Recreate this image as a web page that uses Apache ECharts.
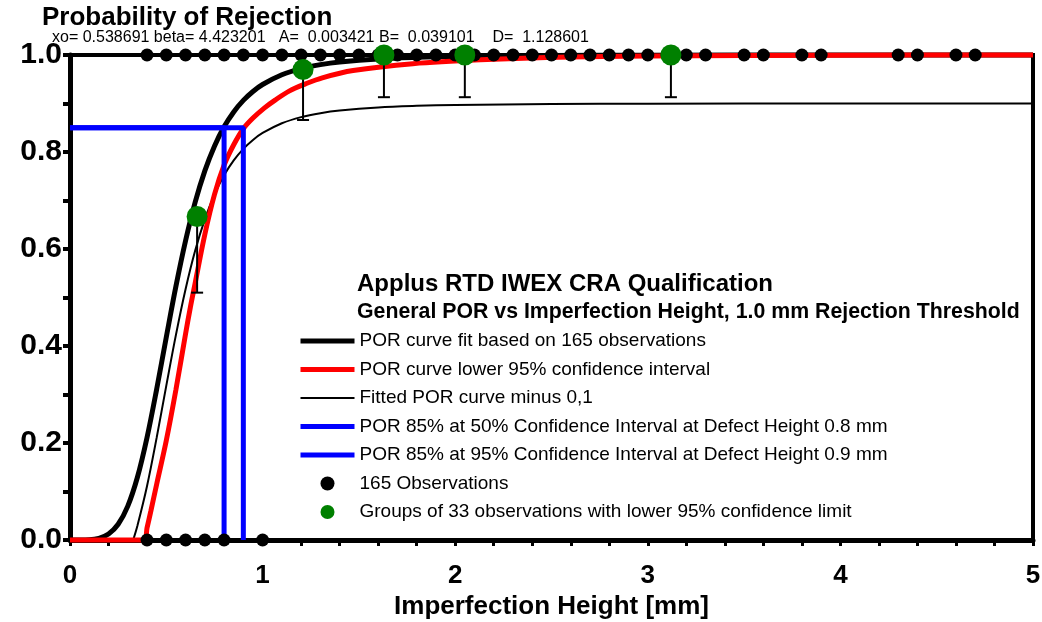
<!DOCTYPE html>
<html>
<head>
<meta charset="utf-8">
<script src="https://cdn.jsdelivr.net/npm/echarts@6/dist/echarts.min.js"></script>
<style>
  html, body { margin: 0; padding: 0; background: #fff; }
  #chart { width: 1042px; height: 622px; }
</style>
</head>
<body>
<div id="chart"></div>
<script>
// Imperfection heights (mm) of the 165 observations, rejected (POR = 1) and not rejected (POR = 0)
const hitHeights = [0.4, 0.5, 0.6, 0.7, 0.8, 0.9, 1.0, 1.1, 1.2, 1.3, 1.4, 1.5, 1.6, 1.7, 1.8, 1.9, 2.0,
  2.1, 2.2, 2.3, 2.4, 2.5, 2.6, 2.7, 2.8, 2.9, 3.0, 3.1, 3.2, 3.3, 3.5, 3.6, 3.8, 3.9, 4.3, 4.4, 4.6, 4.7];
const missHeights = [0.4, 0.5, 0.6, 0.7, 0.8, 1.0];

// POR curve fit (xo = 0.538691, beta = 4.423201)
const fitX = [0, 0.1, 0.15, 0.2, 0.25, 0.3, 0.35, 0.4, 0.45, 0.5, 0.55, 0.6, 0.65, 0.7, 0.75, 0.8, 0.85,
  0.9, 0.95, 1.0, 1.1, 1.2, 1.3, 1.4, 1.6, 1.8, 2.0, 2.5, 3.0, 4.0, 5.0];
const fitY = [0, 0.0006, 0.0035, 0.0123, 0.0324, 0.0698, 0.1293, 0.2114, 0.3110, 0.4183, 0.5230, 0.6170,
  0.6967, 0.7611, 0.8121, 0.8519, 0.8826, 0.9064, 0.9248, 0.9392, 0.9592, 0.9719, 0.9801, 0.9856,
  0.9920, 0.9952, 0.9970, 0.9989, 0.9995, 0.9999, 1.0];

// Lower 95% confidence bound of the POR curve
const lowerX = [0, 0.385, 0.40, 0.42, 0.45, 0.50, 0.55, 0.60, 0.625, 0.65, 0.70, 0.75, 0.80, 0.85,
  0.90, 0.95, 1.01, 1.065, 1.14, 1.22, 1.31, 1.47, 1.78, 2.13, 2.6, 3.0, 4.0, 5.0];
const lowerY = [0, 0, 0.025, 0.06, 0.115, 0.205, 0.31, 0.425, 0.48, 0.53, 0.63, 0.712, 0.773, 0.815,
  0.848, 0.870, 0.891, 0.907, 0.926, 0.940, 0.953, 0.968, 0.982, 0.990, 0.996, 0.998, 0.9995, 1.0];

// Fitted POR curve minus 0.1
const minusX = [0.328, 0.35, 0.4, 0.45, 0.5, 0.55, 0.6, 0.65, 0.7, 0.75, 0.8, 0.85, 0.9, 0.95, 1.0,
  1.1, 1.2, 1.3, 1.4, 1.6, 1.8, 2.0, 2.5, 3.0, 4.0, 5.0];
const minusY = [0, 0.0293, 0.1114, 0.2110, 0.3183, 0.4230, 0.5170, 0.5967, 0.6611, 0.7121, 0.7519,
  0.7826, 0.8064, 0.8248, 0.8392, 0.8592, 0.8719, 0.8801, 0.8856, 0.8920, 0.8952, 0.8970, 0.8989,
  0.8995, 0.8999, 0.9];

// Groups of 33 observations: mean height, hit rate, lower 95% confidence limit
const groupX = [0.66, 1.21, 1.63, 2.05, 3.12];
const groupPor = [0.667, 0.970, 1.0, 1.0, 1.0];
const groupLower = [0.51, 0.866, 0.913, 0.913, 0.913];

// POR 85% reference levels
const porLevel = 0.85;
const height50 = 0.8;
const height95 = 0.9;

const paramText = 'xo= 0.538691 beta= 4.423201   A=  0.003421 B=  0.039101    D=  1.128601';

const names = [
  'POR curve fit based on 165 observations',
  'POR curve lower 95% confidence interval',
  'Fitted POR curve minus 0,1',
  'POR 85% at 50% Confidence Interval at Defect Height 0.8 mm',
  'POR 85% at 95% Confidence Interval at Defect Height 0.9 mm',
  '165 Observations',
  'Groups of 33 observations with lower 95% confidence limit'
];

const pairs = (xs, ys) => xs.map((x, i) => [x, ys[i]]);
const FONT = 'Liberation Sans, Arial, sans-serif';
const BLACK = '#000000', RED = '#ff0000', BLUE = '#0000ff', GREEN = '#008000';

const obsData = hitHeights.map(x => [x, 1]).concat(missHeights.map(x => [x, 0]));
const groupData = groupX.map((x, i) => [x, groupPor[i], groupLower[i]]);

// legend entry for a plain line sample (no marker)
const lineEntry = (name, color, width) => ({
  name, lineStyle: { width, color }, itemStyle: { color, opacity: 0 }
});

const curve = (name, xs, ys, color, width) => ({
  name, type: 'line', data: pairs(xs, ys), symbol: 'none', showSymbol: false, smooth: 0.35,
  clip: false, itemStyle: { color }, lineStyle: { color, width }, z: 2
});

const chart = echarts.init(document.getElementById('chart'), null, { renderer: 'canvas' });

chart.setOption({
  animation: false,
  backgroundColor: '#fff',
  textStyle: { fontFamily: FONT },
  title: [
    { text: 'Probability of Rejection', left: 42, top: 5, padding: 0,
      textStyle: { fontFamily: FONT, fontSize: 26, fontWeight: 'bold', color: BLACK } },
    { text: paramText, left: 52, top: 30, padding: 0,
      textStyle: { fontFamily: FONT, fontSize: 16, fontWeight: 'normal', color: BLACK } },
    { text: 'Applus RTD IWEX CRA Qualification', left: 357, top: 272, padding: 0,
      textStyle: { fontFamily: FONT, fontSize: 24, fontWeight: 'bold', color: BLACK } },
    { text: 'General POR vs Imperfection Height, 1.0 mm Rejection Threshold', left: 357, top: 302, padding: 0,
      textStyle: { fontFamily: FONT, fontSize: 21.3, fontWeight: 'bold', color: BLACK } }
  ],
  legend: {
    orient: 'vertical',
    left: 298,
    top: 329,
    padding: 0,
    itemWidth: 54,
    itemHeight: 14,
    itemGap: 4.5,
    selectedMode: false,
    textStyle: { fontFamily: FONT, fontSize: 19, lineHeight: 24, color: BLACK },
    data: [
      lineEntry(names[0], BLACK, 5),
      lineEntry(names[1], RED, 5),
      lineEntry(names[2], BLACK, 2),
      lineEntry(names[3], BLUE, 5),
      lineEntry(names[4], BLUE, 5),
      { name: names[5], icon: 'circle', itemStyle: { color: BLACK } },
      { name: names[6], icon: 'circle', itemStyle: { color: GREEN } }
    ]
  },
  grid: {
    left: 70, right: 9, top: 55, bottom: 82,
    containLabel: false, outerBoundsMode: 'none',
    show: true, borderColor: BLACK, borderWidth: 4, backgroundColor: 'transparent'
  },
  xAxis: {
    type: 'value', min: 0, max: 5, interval: 1,
    name: 'Imperfection Height [mm]', nameLocation: 'middle', nameGap: 53,
    nameTextStyle: { fontFamily: FONT, fontSize: 26, fontWeight: 'bold', color: BLACK },
    axisLine: { lineStyle: { color: BLACK, width: 5 } },
    axisTick: { show: true, inside: false, length: 6, lineStyle: { color: BLACK, width: 3 } },
    minorTick: { show: true, splitNumber: 5, length: 6, lineStyle: { color: BLACK, width: 3 } },
    splitLine: { show: false },
    axisLabel: { fontFamily: FONT, fontSize: 26, fontWeight: 'bold', color: BLACK, margin: 23 }
  },
  yAxis: {
    type: 'value', min: 0, max: 1, interval: 0.2,
    axisLine: { show: true, lineStyle: { color: BLACK, width: 5 } },
    axisTick: { show: true, inside: false, length: 7, lineStyle: { color: BLACK, width: 4 } },
    minorTick: { show: true, splitNumber: 2, length: 7, lineStyle: { color: BLACK, width: 4 } },
    splitLine: { show: false },
    axisLabel: { fontFamily: FONT, fontSize: 30, fontWeight: 'bold', color: BLACK, margin: 8,
      formatter: v => v.toFixed(1) }
  },
  series: [
    curve(names[0], fitX, fitY, BLACK, 5),
    curve(names[2], minusX, minusY, BLACK, 2),
    curve(names[1], lowerX, lowerY, RED, 5),
    { name: names[3], type: 'line', symbol: 'none', clip: false,
      data: [[0, porLevel], [height50, porLevel], [height50, 0]],
      itemStyle: { color: BLUE }, lineStyle: { color: BLUE, width: 5 }, z: 3 },
    { name: names[4], type: 'line', symbol: 'none', clip: false,
      data: [[0, porLevel], [height95, porLevel], [height95, 0]],
      itemStyle: { color: BLUE }, lineStyle: { color: BLUE, width: 5 }, z: 3 },
    { name: 'lower limit', type: 'custom', data: groupData, z: 4, clip: false,
      renderItem: (params, api) => {
        const top = api.coord([api.value(0), api.value(1)]);
        const bot = api.coord([api.value(0), api.value(2)]);
        return { type: 'group', children: [
          { type: 'line', shape: { x1: top[0], y1: top[1], x2: bot[0], y2: bot[1] },
            style: { stroke: BLACK, lineWidth: 2 } },
          { type: 'line', shape: { x1: bot[0] - 6, y1: bot[1], x2: bot[0] + 6, y2: bot[1] },
            style: { stroke: BLACK, lineWidth: 2 } }
        ] };
      } },
    { name: names[5], type: 'scatter', data: obsData, symbol: 'circle', symbolSize: 13,
      clip: false, itemStyle: { color: BLACK, opacity: 1 }, z: 5 },
    { name: names[6], type: 'scatter', data: groupData.map(d => [d[0], d[1]]), symbol: 'circle',
      symbolSize: 21, clip: false, itemStyle: { color: GREEN, opacity: 1 }, z: 6 }
  ]
});
</script>
</body>
</html>
